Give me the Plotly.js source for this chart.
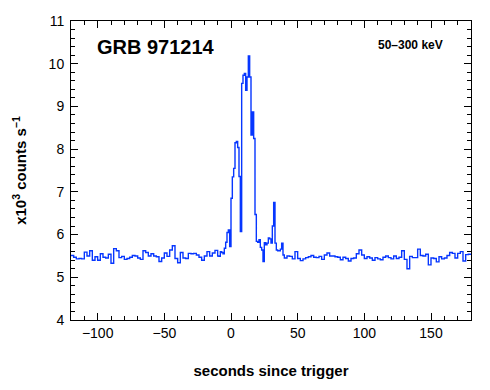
<!DOCTYPE html>
<html>
<head>
<meta charset="utf-8">
<script src="https://cdn.plot.ly/plotly-3.0.1.min.js"></script>
<style>
html,body{margin:0;padding:0;background:#fff;}
#chart{width:490px;height:390px;}
</style>
</head>
<body>
<div id="chart"></div>
<script>
// Bin start times (seconds since trigger)
const preTimes = [-120,-118,-116,-114,-112,-110,-108,-106,-104,-102,-100,-98,-96,-94,-92,-90,-88,-86,-84,-82,-80,-78,-76,-74,-72,-70,-68,-66,-64,-62,-60,-58,-56,-54,-52,-50,-48,-46,-44,-42,-40,-38,-36,-34,-32,-30,-28,-26,-24,-22,-20,-18,-16,-14,-12];
const preRate  = [5.51,5.47,5.43,5.44,5.43,5.59,5.50,5.62,5.40,5.48,5.40,5.55,5.47,5.45,5.54,5.33,5.67,5.62,5.46,5.49,5.42,5.44,5.47,5.51,5.50,5.45,5.42,5.62,5.58,5.50,5.55,5.50,5.48,5.37,5.45,5.57,5.49,5.64,5.74,5.44,5.34,5.58,5.45,5.44,5.56,5.55,5.56,5.52,5.47,5.40,5.50,5.60,5.50,5.57,5.63];

const burstTimes = [-10,-9,-8,-7,-6,-5,-4,-3,-2,-1,0,1,2,3,4,5,6,7,8,9,10,11,12,13,14,15,16,17,18,19,20,21,22,23,24,25,26,27,28,29,30,31,32,33,34,35,36,37,38,39];
const burstRate  = [5.50,5.49,5.60,5.58,5.55,5.68,5.82,6.05,6.11,5.72,6.85,7.35,7.55,8.15,8.18,8.04,7.36,6.07,9.54,9.73,9.77,9.38,9.69,10.18,9.69,8.33,8.87,8.25,6.47,5.84,5.82,5.88,5.70,5.64,5.37,5.81,5.76,5.80,5.92,5.90,5.80,6.20,6.75,5.80,5.64,5.62,5.62,5.66,5.80,5.52];

const postTimes = [40,42,44,46,48,50,52,54,56,58,60,62,64,66,68,70,72,74,76,78,80,82,84,86,88,90,92,94,96,98,100,102,104,106,108,110,112,114,116,118,120,122,124,126,128,130,132,134,136,138,140,142,144,146,148,150,152,154,156,158,160,162,164,166,168,170,172,174,176,178];
const postRate  = [5.45,5.50,5.49,5.43,5.60,5.44,5.39,5.43,5.46,5.48,5.51,5.47,5.46,5.49,5.42,5.52,5.57,5.50,5.50,5.48,5.47,5.41,5.47,5.44,5.38,5.44,5.45,5.55,5.64,5.52,5.44,5.48,5.45,5.40,5.46,5.43,5.41,5.47,5.50,5.46,5.43,5.50,5.44,5.47,5.62,5.42,5.20,5.49,5.46,5.46,5.66,5.51,5.50,5.54,5.29,5.45,5.44,5.36,5.48,5.43,5.45,5.51,5.58,5.56,5.45,5.56,5.60,5.38,5.53,5.54];
const endTime = 180;

const xTickVals = [-100,-50,0,50,100,150];
const yTickVals = [4,5,6,7,8,9,10,11];

const titleText = 'GRB 971214';
const bandText = '50\u2013300 keV';
const xTitle = 'seconds since trigger';
const yTitle = 'x10<sup>3</sup> counts s<sup>\u22121</sup>';

// Build step series
const t = preTimes.concat(burstTimes, postTimes, [endTime]);
const r = preRate.concat(burstRate, postRate);
r.push(r[r.length - 1]);

const FONT = 'Liberation Sans, Arial, Helvetica, sans-serif';

const trace = {
  x: t, y: r, type: 'scatter', mode: 'lines',
  line: {shape: 'hv', color: '#0636ff', width: 1.4},
  hoverinfo: 'skip'
};

const axisCommon = {
  showgrid: false, zeroline: false,
  showline: true, linecolor: '#000', linewidth: 1,
  mirror: 'allticks',
  ticks: 'inside', ticklen: 7, tickwidth: 1, tickcolor: '#000',
  tickfont: {family: FONT, size: 14, color: '#000'}
};

const layout = {
  width: 490, height: 390,
  margin: {l: 71, r: 19, t: 21, b: 70},
  paper_bgcolor: '#fff', plot_bgcolor: '#fff',
  showlegend: false,
  xaxis: Object.assign({}, axisCommon, {
    range: [-120, 180], tickvals: xTickVals,
    minor: {dtick: 10, tick0: 0, ticks: 'inside', ticklen: 4, tickwidth: 1, tickcolor: '#000', showgrid: false},
    title: {text: '<b>' + xTitle + '</b>', font: {family: FONT, size: 15, color: '#000'}, standoff: 25}
  }),
  yaxis: Object.assign({}, axisCommon, {
    range: [4, 11], tickvals: yTickVals,
    minor: {dtick: 0.2, tick0: 4, ticks: 'inside', ticklen: 4, tickwidth: 1, tickcolor: '#000', showgrid: false},
    ticklabelstandoff: 3,
    title: {text: '<b>' + yTitle + '</b>', font: {family: FONT, size: 15, color: '#000'}, standoff: 18}
  }),
  annotations: [
    {text: '<b>' + titleText + '</b>', xref: 'paper', yref: 'paper', x: 0.06, y: 0.912,
     xanchor: 'left', yanchor: 'middle', showarrow: false, font: {family: FONT, size: 20, color: '#000'}},
    {text: '<b>' + bandText + '</b>', xref: 'paper', yref: 'paper', x: 0.935, y: 0.92,
     xanchor: 'right', yanchor: 'middle', showarrow: false, font: {family: FONT, size: 12, color: '#000'}}
  ]
};

Plotly.newPlot('chart', [trace], layout, {displayModeBar: false, staticPlot: true});
</script>
</body>
</html>
